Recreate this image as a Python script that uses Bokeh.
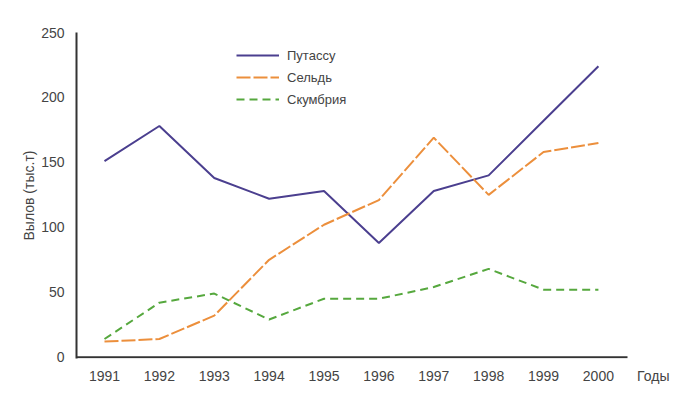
from bokeh.plotting import figure
from bokeh.embed import file_html
from bokeh.resources import INLINE
from bokeh.models import FixedTicker, Legend, LegendItem

years = [1991, 1992, 1993, 1994, 1995, 1996, 1997, 1998, 1999, 2000]
putassu = [151, 178, 138, 122, 128, 88, 128, 140, 182, 224]
seld = [12, 14, 32, 75, 102, 121, 169, 125, 158, 165]
skumbria = [14, 42, 49, 29, 45, 45, 54, 68, 52, 52]
series_names = ["Путассу", "Сельдь", "Скумбрия"]
y_ticks = [0, 50, 100, 150, 200, 250]
x_axis_name = "Годы"
x_axis_name_pos = 2001
y_axis_name = "Вылов (тыс.т)"

FONT = "Liberation Sans"
x_start, x_end_axis, x_end = 1990.49, 2000.53, 2001.35

p = figure(width=679, height=398, output_backend="svg", toolbar_location=None,
           x_range=(x_start, x_end), y_range=(-1, 250),
           min_border_left=76, min_border_right=7, min_border_top=32, min_border_bottom=40)
p.outline_line_color = None
p.grid.grid_line_color = None
p.background_fill_color = "white"
p.border_fill_color = "white"

r1 = p.line(years, putassu, line_color="#4b3f8f", line_width=2)
r2 = p.line(years, seld, line_color="#ec8f3c", line_width=2, line_dash="14 3")
r3 = p.line(years, skumbria, line_color="#56a83e", line_width=2, line_dash="8 5")

# x axis baseline
p.segment(x0=[x_start], y0=[0], x1=[x_end_axis], y1=[0], line_color="#333333", line_width=2)

xa = p.xaxis[0]
xa.ticker = FixedTicker(ticks=years + [x_axis_name_pos])
xa.major_label_overrides = {x_axis_name_pos: x_axis_name}
xa.axis_line_color = None
xa.major_tick_out = 0
xa.major_tick_in = 0
xa.minor_tick_out = 0
xa.minor_tick_in = 0
xa.major_label_standoff = 9
xa.major_label_text_font = FONT
xa.major_label_text_font_size = "14px"
xa.major_label_text_color = "#444444"

ya = p.yaxis[0]
ya.ticker = FixedTicker(ticks=y_ticks)
ya.axis_line_color = "#333333"
ya.axis_line_width = 2
ya.major_tick_out = 0
ya.major_tick_in = 0
ya.minor_tick_out = 0
ya.minor_tick_in = 0
ya.major_label_standoff = 12
ya.major_label_text_font = FONT
ya.major_label_text_font_size = "14px"
ya.major_label_text_color = "#444444"
ya.axis_label = y_axis_name
ya.axis_label_text_font = FONT
ya.axis_label_text_font_size = "14px"
ya.axis_label_text_font_style = "normal"
ya.axis_label_text_color = "#444444"
ya.axis_label_standoff = 1

legend = Legend(items=[LegendItem(label=series_names[0], renderers=[r1]),
                       LegendItem(label=series_names[1], renderers=[r2]),
                       LegendItem(label=series_names[2], renderers=[r3])],
                location=(160, 248))
legend.border_line_color = None
legend.background_fill_alpha = 0
legend.padding = 0
legend.margin = 0
legend.spacing = 0
legend.label_height = 22
legend.glyph_height = 22
legend.glyph_width = 43
legend.label_standoff = 8
legend.label_text_font = FONT
legend.label_text_font_size = "13px"
legend.label_text_color = "#444444"
p.add_layout(legend, "center")

open("out.html", "w").write(file_html(p, INLINE))
